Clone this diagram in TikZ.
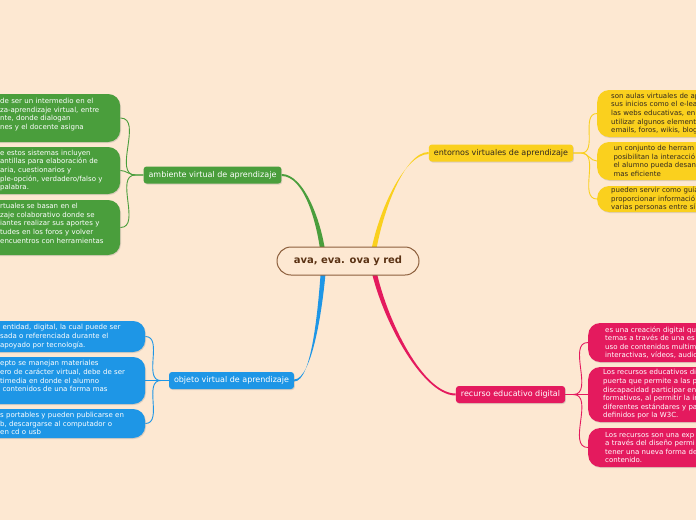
\documentclass[tikz,border=0pt]{standalone}
\usepackage{fontspec}
\setmainfont{DejaVu Sans}
\usetikzlibrary{shadows,backgrounds,calc}

\definecolor{paper}{RGB}{253,232,210}
\definecolor{avagreen}{RGB}{74,158,60}
\definecolor{ovablue}{RGB}{30,150,230}
\definecolor{evayellow}{RGB}{250,208,30}
\definecolor{redpink}{RGB}{228,26,94}
\definecolor{rootbrown}{RGB}{140,95,60}
\definecolor{rootink}{RGB}{90,50,20}
\definecolor{darkink}{RGB}{50,40,30}

\tikzset{
  softshadow/.style={drop shadow={shadow xshift=0.8pt, shadow yshift=-1pt, opacity=0.25}},
  rootbox/.style={draw=rootbrown, line width=1pt, fill=paper, rounded corners=14pt,
    minimum width=142pt, minimum height=28pt, text=rootink,
    font=\bfseries\fontsize{10}{12}\selectfont},
  branch/.style={fill=#1, rounded corners=3pt, minimum height=17pt, inner xsep=5pt,
    inner ysep=0pt, font=\fontsize{8}{9.6}\selectfont, softshadow},
  leaf/.style={fill=#1, rounded corners=12pt, align=left, anchor=west, inner ysep=0pt,
    font=\fontsize{7}{8.6}\selectfont, softshadow},
  twig/.style={draw=#1, line width=0.9pt},
}

\begin{document}
\begin{tikzpicture}[x=1pt, y=-1pt]
\useasboundingbox (0,0) rectangle (696,520);
\clip (0,0) rectangle (696,520);

% centre
\node[rootbox] (root) at (348,261) {ava, eva. ova y red};

% main topics
\node[branch=avagreen, text=white] (amb) at (212.5,175) {ambiente virtual de aprendizaje};
\node[branch=evayellow, text=darkink] (ent) at (501,153) {entornos virtuales de aprendizaje};
\node[branch=ovablue, text=white] (obj) at (231.5,380.5) {objeto virtual de aprendizaje};
\node[branch=redpink, text=white] (rec) at (510.5,394.5) {recurso educativo digital};

% ambiente virtual
\node[leaf=avagreen, text=white, text width=107pt, inner xsep=13pt, minimum height=48pt] (amb1) at (-13,118)
  {de ser un intermedio en el\\ za-aprendizaje virtual, entre\\ nte, donde dialogan\\ nes y el docente asigna\\ \mbox{}};
\node[leaf=avagreen, text=white, text width=107pt, inner xsep=13pt, minimum height=47pt] (amb2) at (-13,170.5)
  {e estos sistemas incluyen\\ antillas para elaboración de\\ aria, cuestionarios y\\ ple-opción, verdadero/falso y\\ palabra.};
\node[leaf=avagreen, text=white, text width=107pt, inner xsep=13pt, minimum height=55pt] (amb3) at (-13,227.5)
  {rtuales se basan en el\\ zaje colaborativo donde se\\ iantes realizar sus aportes y\\ tudes en los foros y volver\\ encuentros con herramientas\\ \mbox{}};

% objeto virtual
\node[leaf=ovablue, text=white, text width=130pt, inner xsep=15pt, minimum height=31pt] (obj1) at (-15,336.5)
  {\ entidad, digital, la cual puede ser\\ sada o referenciada durante el\\ apoyado por tecnología.};
\node[leaf=ovablue, text=white, text width=130pt, inner xsep=15pt, minimum height=47pt] (obj2) at (-15,380.5)
  {epto se manejan materiales\\ ero de carácter virtual, debe de ser\\ timedia en donde el alumno\\ \ contenidos de una forma mas\\ \mbox{}};
\node[leaf=ovablue, text=white, text width=130pt, inner xsep=15pt, minimum height=29pt] (obj3) at (-15,423.5)
  {s portables y pueden publicarse en\\ b, descargarse al computador o\\ en cd o usb};

% entornos virtuales
\node[leaf=evayellow, text=darkink, text width=150pt, inner xsep=14pt, minimum height=47pt] (ent1) at (597,113.5)
  {son aulas virtuales de ap\\ sus inicios como el e-lea\\ las webs educativas, en\\ utilizar algunos element\\ emails, foros, wikis, blog};
\node[leaf=evayellow, text=darkink, text width=150pt, inner xsep=14pt, minimum height=38pt] (ent2) at (597,161)
  {\ un conjunto de herram\\ \ posibilitan la interacció\\ \ el alumno pueda desan\\ \ mas eficiente};
\node[leaf=evayellow, text=darkink, text width=150pt, inner xsep=14pt, minimum height=26pt] (ent3) at (597,199)
  {pueden servir como guía\\ proporcionar informació\\ varias personas entre sí};

% recurso educativo
\node[leaf=redpink, text=white, text width=150pt, inner xsep=17pt, minimum height=39pt] (rec1) at (588,342.5)
  {es una creación digital qu\\ temas a través de una es\\ uso de contenidos multim\\ interactivas, vídeos, audio};
\node[leaf=redpink, text=white, text width=150pt, inner xsep=15pt, minimum height=55pt] (rec2) at (588,394.5)
  {Los recursos educativos di\\ puerta que permite a las p\\ discapacidad participar en\\ formativos, al permitir la in\\ diferentes estándares y pa\\ definidos por la W3C.};
\node[leaf=redpink, text=white, text width=150pt, inner xsep=17pt, minimum height=39pt] (rec3) at (588,447.5)
  {Los recursos son una exp\\ a través del diseño permi\\ tener una nueva forma de\\ contenido.};

\begin{scope}[on background layer]
\fill[paper] (0,0) rectangle (696,520);
% tapered limbs from the centre
\fill[avagreen] ($(amb.east)+(0,-1)$) .. controls +(22,0) and +(-4,-40) .. ($(root.center)+(-21.5,0)$)
  -- ($(root.center)+(-26.5,0)$) .. controls +(-4,-40) and +(22,0) .. ($(amb.east)+(0,1)$) -- cycle;
\fill[evayellow] ($(ent.west)+(0,-1)$) .. controls +(-25,0) and +(6,-45) .. ($(root.center)+(26.5,0)$)
  -- ($(root.center)+(21.5,0)$) .. controls +(6,-45) and +(-25,0) .. ($(ent.west)+(0,1)$) -- cycle;
\fill[ovablue] ($(obj.east)+(0,-1)$) .. controls +(18,0) and +(-3,45) .. ($(root.center)+(-21.5,0)$)
  -- ($(root.center)+(-26.5,0)$) .. controls +(-3,45) and +(18,0) .. ($(obj.east)+(0,1)$) -- cycle;
\fill[redpink] ($(rec.west)+(0,-1)$) .. controls +(-35,0) and +(8,50) .. ($(root.center)+(26.5,0)$)
  -- ($(root.center)+(21.5,0)$) .. controls +(8,50) and +(-35,0) .. ($(rec.west)+(0,1)$) -- cycle;
% twigs to the leaves
\foreach \n in {1,2,3} {
  \draw[twig=avagreen] (amb.west) -- ++(-8,0) to[out=180,in=0] (amb\n.east);
  \draw[twig=ovablue] (obj.west) -- ++(-8,0) to[out=180,in=0] (obj\n.east);
  \draw[twig=evayellow] (ent.east) -- ++(8,0) to[out=0,in=180] (ent\n.west);
  \draw[twig=redpink] (rec.east) -- ++(8,0) to[out=0,in=180] (rec\n.west);
}
\end{scope}
\end{tikzpicture}
\end{document}
